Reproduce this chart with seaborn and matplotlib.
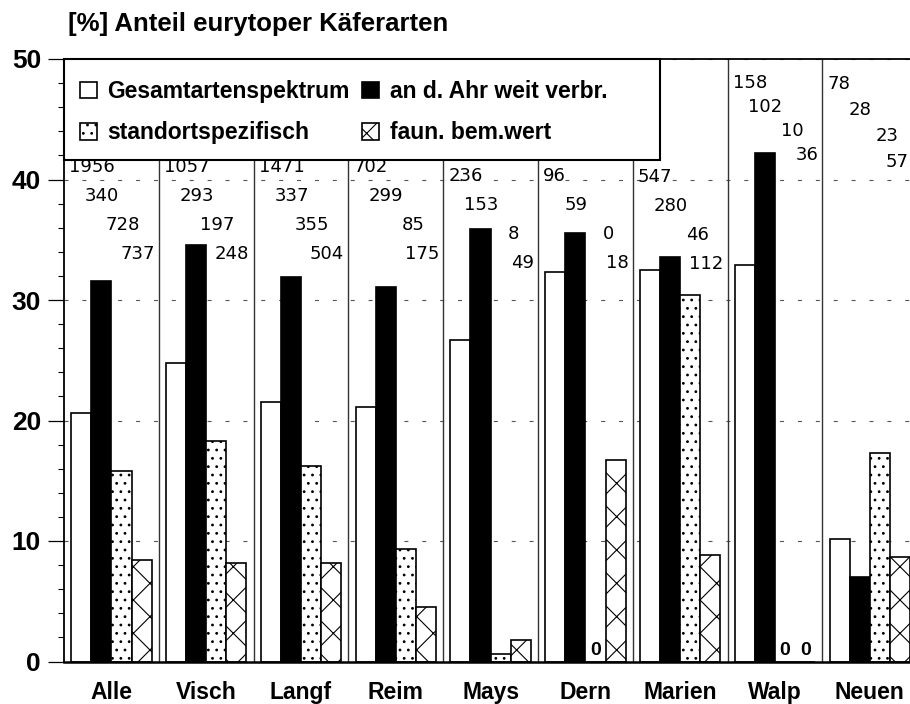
import pandas as pd
import seaborn as sns
import matplotlib.pyplot as plt
from matplotlib.patches import Patch, Rectangle
from matplotlib.ticker import MultipleLocator

# data
sites = ['Alle', 'Visch', 'Langf', 'Reim', 'Mays', 'Dern', 'Marien', 'Walp', 'Neuen']
categories = ['Gesamtartenspektrum', 'an d. Ahr weit verbr.', 'standortspezifisch', 'faun. bem.wert']

gesamt = [20.6, 24.8, 21.5, 21.1, 26.7, 32.3, 32.5, 32.9, 10.2]
ahr = [31.6, 34.6, 31.9, 31.1, 35.9, 35.6, 33.6, 42.2, 7.0]
standort = [15.8, 18.3, 16.2, 9.3, 0.6, 0.0, 30.4, 0.0, 17.3]
faun = [8.4, 8.2, 8.2, 4.5, 1.8, 16.7, 8.8, 0.0, 8.7]

# species counts written above the bars
n_gesamt = [1956, 1057, 1471, 702, 236, 96, 547, 158, 78]
n_ahr = [340, 293, 337, 299, 153, 59, 280, 102, 28]
n_standort = [728, 197, 355, 85, 8, 0, 46, 10, 23]
n_faun = [737, 248, 504, 175, 49, 18, 112, 36, 57]

# where the count labels sit (y of first row, step between rows)
label_top = [41.0, 41.0, 41.0, 41.0, 40.3, 40.3, 40.2, 48.0, 47.9]
label_step = [2.4, 2.4, 2.4, 2.4, 2.4, 2.4, 2.4, 2.0, 2.15]

df = pd.DataFrame({
    'site': sites * 4,
    'cat': [c for c in categories for _ in sites],
    'value': gesamt + ahr + standort + faun,
})

fills = ['white', 'black', 'white', 'white']
hatches = [None, None, '..', 'x']

plt.rcParams['font.family'] = ['Liberation Sans', 'DejaVu Sans']
plt.rcParams['hatch.linewidth'] = 0.8

fig = plt.figure(figsize=(9.1, 7.04), dpi=100)
ax = fig.add_axes([64 / 910, 42.5 / 704, 846 / 910, 602.5 / 704])

bar_w = 0.85
sns.barplot(data=df, x='site', y='value', hue='cat', hue_order=categories,
            palette=fills, saturation=1, width=bar_w, errorbar=None,
            edgecolor='black', linewidth=1.2, legend=False, ax=ax)
for cont, h in zip(ax.containers, hatches):
    for bar in cont:
        bar.set_zorder(2)
        if h:
            bar.set_hatch(h)

xmax = 8.424
ax.set_xlim(-0.5, xmax)
ax.set_ylim(0, 50)
ax.set_xlabel('')
ax.set_ylabel('')

# grid + group separators
ax.yaxis.grid(True, which='major', color='#555555', linewidth=0.8,
              linestyle=(0, (3.6, 12.5)), zorder=0.5)
ax.set_axisbelow(True)
for i in range(len(sites) - 1):
    ax.axvline(i + 0.5, color='#333333', linewidth=1.0, zorder=1)

ax.yaxis.set_major_locator(MultipleLocator(10))
ax.yaxis.set_minor_locator(MultipleLocator(2))
ax.tick_params(axis='y', which='major', length=11.5, width=0.9, pad=5, labelsize=19)
ax.tick_params(axis='y', which='minor', length=4.3, width=0.8)
ax.tick_params(axis='x', length=0, pad=14, labelsize=16.5)
for lab in ax.get_xticklabels() + ax.get_yticklabels():
    lab.set_fontweight('bold')

ax.spines['right'].set_visible(False)
ax.spines['left'].set_linewidth(1.3)
ax.spines['top'].set_linewidth(1.3)
ax.spines['bottom'].set_linewidth(1.8)

# count labels
counts = list(zip(n_gesamt, n_ahr, n_standort, n_faun))
for i, row in enumerate(counts):
    left = i - 0.5
    y0, st = label_top[i], label_step[i]
    kw = dict(fontsize=13, family='DejaVu Sans', va='center', zorder=6)
    ax.text(left + 0.055, y0, str(row[0]), ha='left', **kw)
    ax.text(left + 0.40, y0 - st, str(row[1]), ha='center', **kw)
    ax.text(left + 0.80, y0 - 2 * st, str(row[2]), ha='right', **kw)
    ax.text(min(left + 0.955, xmax - 0.02), y0 - 3 * st, str(row[3]), ha='right', **kw)

# bold zeros for empty bars
series = [gesamt, ahr, standort, faun]
for k, vals in enumerate(series):
    for i, v in enumerate(vals):
        if v == 0:
            x = i + (k - 1.5) * bar_w / 4
            ax.text(x, 0.95, '0', ha='center', va='center', fontsize=14,
                    fontweight='bold', zorder=6)

# legend box
ax.add_patch(Rectangle((0, 0.8324), 0.7045, 0.1676, transform=ax.transAxes,
                       facecolor='white', edgecolor='black', linewidth=1.5,
                       zorder=4, clip_on=False))
handles = [Patch(facecolor=f, edgecolor='black', linewidth=1.2, hatch=h)
           for f, h in zip(fills, hatches)]
order = [0, 2, 1, 3]
leg = ax.legend([handles[j] for j in order], [categories[j] for j in order],
                ncol=2, loc='upper left', bbox_to_anchor=(0.0189, 0.965),
                borderaxespad=0, borderpad=0, frameon=False,
                prop={'weight': 'bold', 'size': 16.5},
                handlelength=0.74, handleheight=0.74, handletextpad=0.44,
                columnspacing=0.57, labelspacing=0.8)
leg.set_zorder(5)

fig.text(68 / 910, 1 - 31 / 704, '[%] Anteil eurytoper Käferarten',
         fontsize=18.5, fontweight='bold', va='baseline')

fig.savefig('out.png', dpi=100)
